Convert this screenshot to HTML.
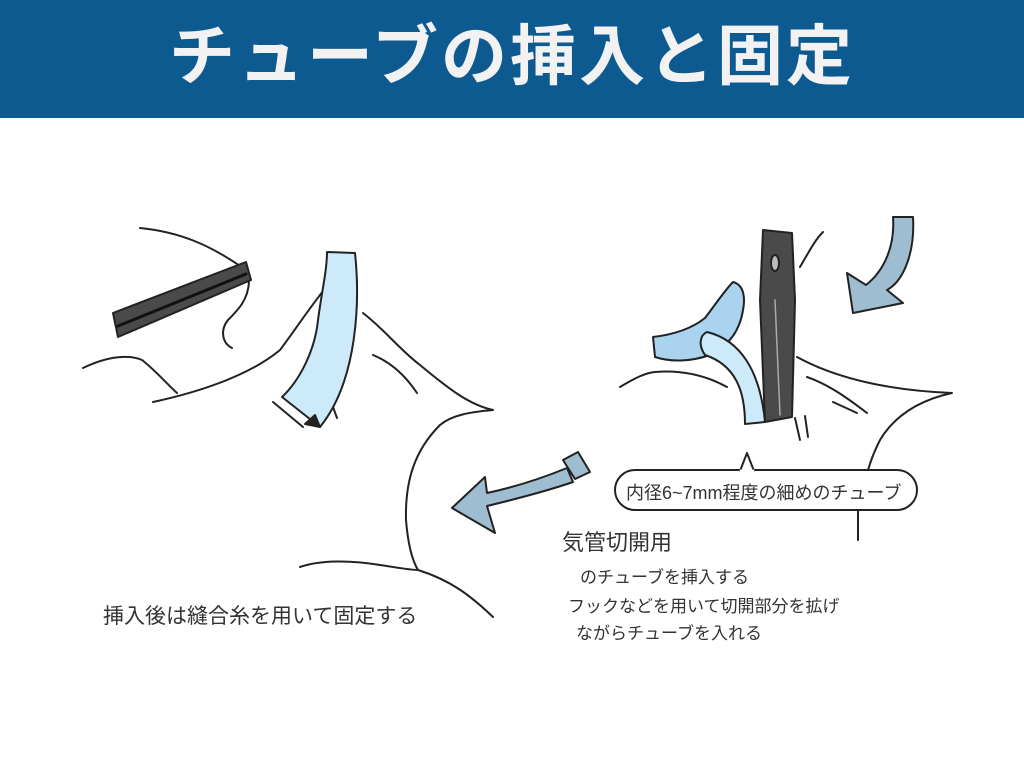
<!DOCTYPE html>
<html><head><meta charset="utf-8"><style>
body{margin:0;width:1024px;height:768px;background:#fff;overflow:hidden;font-family:"Liberation Sans","Noto Sans CJK JP",sans-serif;position:relative}
.hd{position:absolute;left:0;top:0;width:1024px;height:118px;background:#0d5a91;color:#f2f2f2;font-weight:bold;font-size:66px;text-align:center;line-height:112px;letter-spacing:3px}
.t{position:absolute;color:#333;white-space:nowrap}
svg{position:absolute;left:0;top:0}
</style></head><body>
<div class="hd">チューブの挿入と固定</div>
<svg width="1024" height="768" fill="none" stroke="#222" stroke-width="2" stroke-linecap="round" stroke-linejoin="round">
<!-- left illustration -->
<path d="M140 228 C180 232 210 245 243 268"/>
<path d="M83 368 C110 355 130 355 142 360 C155 370 168 385 177 393"/>
<path d="M153 402 C200 392 250 375 280 350 C295 330 315 300 328 285"/>
<path d="M363 313 C385 330 400 350 420 365 C450 390 470 405 493 410 C470 412 452 415 440 425 C415 450 405 480 406 520 C408 545 412 560 418 570 C450 580 470 595 493 617"/>
<path d="M300 567 C320 560 350 560 380 565 C400 568 410 570 418 570"/>
<path d="M373 355 C390 362 405 375 417 393"/>
<path d="M273 402 L303 427 M333 407 L337 418"/>
<path d="M327 252 L355 253 C360 300 358 380 320 427 L282 397 C300 380 315 350 318 320 C322 290 327 270 327 252Z" fill="#cdeafb"/>
<path d="M305 424 L320 427 L315 415Z" fill="#222"/>
<path d="M113 313 L246 262 L251 280 L118 337Z" fill="#4a4a4a"/>
<path d="M118 326 L246 274" stroke="#111" stroke-width="3"/>
<path d="M249 282 C248 300 238 310 228 320 C220 330 222 343 232 348"/>
<!-- left arrow -->
<path d="M563 460 L578 452 L590 472 L575 479Z" fill="#9fbdd0"/>
<path d="M573 482 C550 490 520 498 487 506 L495 533 L452 508 L485 477 L487 493 C515 487 545 477 567 468Z" fill="#9fbdd0"/>
<!-- right illustration -->
<path d="M620 387 C635 378 645 373 655 372 C680 370 705 375 727 387"/>
<path d="M797 357 C830 375 880 390 952 393 C920 400 895 415 880 440 C870 460 868 470 867 475"/>
<path d="M807 377 C830 385 850 400 867 413 M833 402 L857 413"/>
<path d="M795 418 L800 440 M805 416 L808 437"/>
<path d="M800 267 C810 250 815 240 823 232"/>
<path d="M893 217 L913 217 C915 250 905 280 887 290 L903 303 L853 313 L847 273 L866 285 C885 270 895 245 893 217Z" fill="#9fbdd0"/>
<path d="M653 337 C670 335 690 330 705 318 C715 305 725 290 733 282 C745 285 745 300 743 310 C740 330 730 345 710 355 C690 362 670 362 655 357Z" fill="#a9d3ee"/>
<path d="M707 332 C740 340 760 370 765 422 L745 424 C745 390 735 365 705 355 C698 345 700 335 707 332Z" fill="#cdeafb"/>
<path d="M763 230 L792 233 L795 300 L792 417 L765 422 L760 300Z" fill="#4a4a4a"/>
<path d="M775 300 L780 415" stroke="#aaa" stroke-width="1.5"/>
<ellipse cx="775" cy="263" rx="4" ry="8" fill="#bbb"/>
<rect x="615" y="470" width="302" height="40" rx="20" fill="#fff"/>
<path d="M740 471 L747 453 L754 471" fill="#fff"/>
<path d="M741 471 L753 471" stroke="#fff" stroke-width="3"/>
<path d="M858 510 L858 540"/>
</svg>
<div class="t" style="left:626px;top:479px;font-size:18px">内径6~7mm程度の細めのチューブ</div>
<div class="t" style="left:562px;top:525px;font-size:22px">気管切開用</div>
<div class="t" style="left:580px;top:563px;font-size:17px">のチューブを挿入する</div>
<div class="t" style="left:568px;top:592px;font-size:17px">フックなどを用いて切開部分を拡げ</div>
<div class="t" style="left:576px;top:619px;font-size:17px">ながらチューブを入れる</div>
<div class="t" style="left:103px;top:600px;font-size:21px">挿入後は縫合糸を用いて固定する</div>
</body></html>
